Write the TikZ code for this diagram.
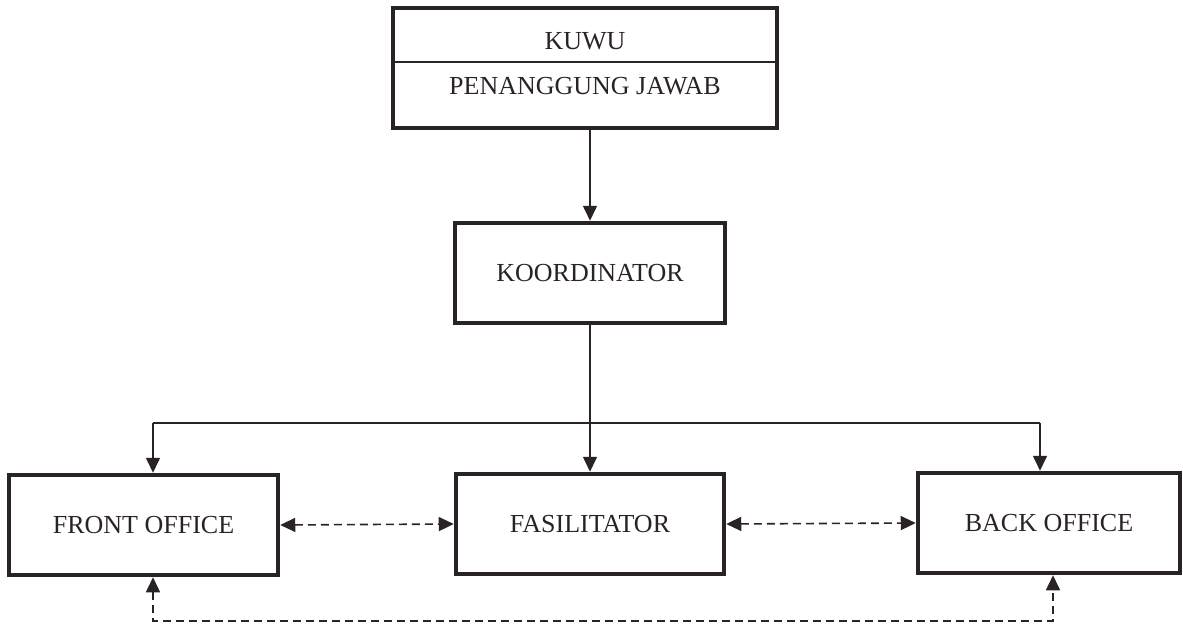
\documentclass[tikz,border=0pt]{standalone}
\usepackage{fontspec}
\setmainfont{Liberation Serif}
\usetikzlibrary{arrows.meta}
\definecolor{ink}{HTML}{2A2325}
\tikzset{
  box/.style={draw=ink, line width=4.5pt, rectangle, inner sep=0pt, font=\fontsize{26}{30}\selectfont, text=ink},
  conn/.style={draw=ink, line width=1.6pt},
  arr/.style={conn, -{Triangle[length=15pt,width=14pt]}},
  darr/.style={conn, dash pattern=on 8pt off 5pt, {Triangle[length=15pt,width=14pt]}-{Triangle[length=15pt,width=14pt]}},
  lbl/.style={font=\fontsize{26}{30}\selectfont, text=ink, inner sep=0pt}
}
\begin{document}
\begin{tikzpicture}[x=1pt,y=-1pt]
\useasboundingbox (0,0) rectangle (1183,626);
% top box
\node[box, minimum width=384pt, minimum height=120pt] (top) at (585,68) {};
\node[lbl] (kuwu) at (585,41) {KUWU};
\node[lbl] (pj) at (585,86) {PENANGGUNG JAWAB};
\coordinate (dl) at (393,62);
\coordinate (dr) at (777,62);
\draw[conn, line width=2pt] (dl) -- (dr);
% koordinator
\node[box, minimum width=270pt, minimum height=100pt] (koord) at (590,273) {KOORDINATOR};
% bottom row
\node[box, minimum width=269pt, minimum height=100pt] (front) at (143.5,525) {FRONT OFFICE};
\node[box, minimum width=268pt, minimum height=100pt] (fas) at (590,524) {FASILITATOR};
\node[box, minimum width=262pt, minimum height=100pt] (back) at (1049,523) {BACK OFFICE};
% connectors
\draw[arr] (koord.north |- top.south) -- (koord.north);
\draw[arr] (koord.south) -- (fas.north);
\coordinate (fl) at (153,423);
\coordinate (br) at (1040,423);
\draw[conn] (fl) -- (br);
\draw[arr] (fl) -- (fl |- front.north);
\draw[arr] (br) -- (br |- back.north);
\draw[darr] (front.east) -- (fas.west);
\draw[darr] (fas.east) -- (back.west);
\coordinate (bl) at (153,621);
\coordinate (bb) at (1053,621);
\draw[darr] (bl |- front.south) -- (bl) -- (bb) -- (bb |- back.south);
\end{tikzpicture}
\end{document}
